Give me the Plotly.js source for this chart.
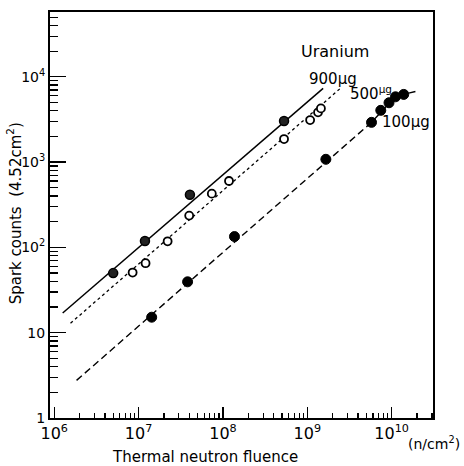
<!DOCTYPE html>
<html>
<head>
<meta charset="utf-8">
<script src="https://cdn.plot.ly/plotly-3.0.1.min.js"></script>
<style>html,body{margin:0;padding:0;background:#fff;}#chart{width:464px;height:466px;}</style>
</head>
<body>
<div id="chart"></div>
<script>
// 900 µg
const x900 = [5.0e6, 1.19e7, 4.06e7, 5.3e8];
const y900 = [50, 119, 415, 3030];
const fit900x = [1.26e6, 1.54e9];
const fit900y = [17, 7310];
// 500 µg
const x500 = [8.5e6, 1.21e7, 2.21e7, 3.98e7, 7.38e7, 1.18e8, 5.3e8, 1.08e9, 1.34e9, 1.45e9];
const y500 = [50.7, 65.3, 118, 236, 427, 601, 1865, 3110, 3830, 4265];
const fit500x = [1.56e6, 2.54e9];
const fit500y = [12.9, 7510];
// 100 µg
const x100 = [1.43e7, 3.81e7, 1.37e8, 1.66e9, 5.77e9, 7.43e9, 9.3e9, 1.11e10, 1.39e10];
const y100 = [15.2, 39.5, 134, 1079, 2925, 4045, 4965, 5830, 6220];
const fit100x = [1.84e6, 5.77e9, 9.3e9, 1.39e10, 2.06e10];
const fit100y = [2.76, 2925, 4880, 6220, 6860];

const xTickVals = [1e6, 1e7, 1e8, 1e9, 1e10];
const xTickText = ['10<sup>6</sup>', '10<sup>7</sup>', '10<sup>8</sup>', '10<sup>9</sup>', '10<sup>10</sup>'];
const yTickVals = [1, 10, 100, 1000, 10000];
const yTickText = ['1', '10', '10<sup>2</sup>', '10<sup>3</sup>', '10<sup>4</sup>'];

function minors(lo, hi) {
  const out = [];
  for (let e = lo; e <= hi; e++) for (let m = 2; m <= 9; m++) out.push(m * Math.pow(10, e));
  return out;
}

const FAM = 'DejaVu Sans, sans-serif';

const traces = [
  {x: fit900x, y: fit900y, mode: 'lines', line: {color: '#000', width: 1.5, dash: 'solid'}, showlegend: false, hoverinfo: 'skip'},
  {x: fit500x, y: fit500y, mode: 'lines', line: {color: '#000', width: 1.3, dash: 'dot'}, showlegend: false, hoverinfo: 'skip'},
  {x: fit100x, y: fit100y, mode: 'lines', line: {color: '#000', width: 1.4, dash: '7px,4px'}, showlegend: false, hoverinfo: 'skip'},
  {x: x900, y: y900, mode: 'markers', marker: {symbol: 'circle', size: 9, color: '#222', line: {color: '#000', width: 1.5}}, showlegend: false},
  {x: x500, y: y500, mode: 'markers', marker: {symbol: 'circle', size: 8, color: '#fff', line: {color: '#000', width: 1.8}}, showlegend: false},
  {x: x100, y: y100, mode: 'markers', marker: {symbol: 'circle', size: 10, color: '#000', line: {color: '#000', width: 1}}, showlegend: false}
];

const layout = {
  width: 464, height: 466,
  margin: {l: 50, r: 31, t: 12, b: 48},
  paper_bgcolor: '#fff', plot_bgcolor: '#fff',
  font: {family: FAM, color: '#000'},
  showlegend: false,
  xaxis: {
    type: 'log', range: [5.95, 10.49],
    tickmode: 'array', tickvals: xTickVals, ticktext: xTickText,
    ticks: 'inside', ticklen: 11, tickwidth: 1.3, tickcolor: '#000',
    minor: {tickmode: 'array', tickvals: minors(6, 10), ticks: 'inside', ticklen: 5, tickwidth: 1.2, tickcolor: '#000', showgrid: false},
    showline: true, linecolor: '#000', linewidth: 2, mirror: true,
    showgrid: false, zeroline: false,
    tickfont: {family: FAM, size: 16, color: '#000'}
  },
  yaxis: {
    type: 'log', range: [0, 4.76],
    tickmode: 'array', tickvals: yTickVals, ticktext: yTickText,
    ticks: 'inside', ticklen: 16, tickwidth: 1.3, tickcolor: '#000',
    minor: {tickmode: 'array', tickvals: minors(0, 4), ticks: 'inside', ticklen: 8, tickwidth: 1.2, tickcolor: '#000', showgrid: false},
    showline: true, linecolor: '#000', linewidth: 2, mirror: true,
    showgrid: false, zeroline: false,
    tickfont: {family: FAM, size: 14, color: '#000'}
  },
  annotations: [
    {text: 'Spark counts  (4.52cm<sup>2</sup>)', xref: 'paper', yref: 'paper', x: -0.093, y: 0.505, textangle: -90, xanchor: 'center', yanchor: 'middle', showarrow: false, font: {family: FAM, size: 15, color: '#000'}},
    {text: 'Thermal neutron fluence', xref: 'paper', yref: 'paper', x: 0.405, y: -0.095, xanchor: 'center', yanchor: 'middle', showarrow: false, font: {family: FAM, size: 15, color: '#000'}},
    {text: 'Uranium', xref: 'paper', yref: 'paper', x: 0.745, y: 0.902, xanchor: 'center', yanchor: 'middle', showarrow: false, font: {family: FAM, size: 16, color: '#000'}},
    {text: '900μg', xref: 'paper', yref: 'paper', x: 0.74, y: 0.835, xanchor: 'center', yanchor: 'middle', showarrow: false, font: {family: FAM, size: 15, color: '#000'}},
    {text: '500<sup>μg</sup>', xref: 'paper', yref: 'paper', x: 0.838, y: 0.8, xanchor: 'center', yanchor: 'middle', showarrow: false, font: {family: FAM, size: 15, color: '#000'}},
    {text: '100μg', xref: 'paper', yref: 'paper', x: 0.93, y: 0.73, xanchor: 'center', yanchor: 'middle', showarrow: false, font: {family: FAM, size: 15, color: '#000'}},
    {text: '(n/cm<sup>2</sup>)', xref: 'paper', yref: 'paper', x: 1.076, y: -0.062, xanchor: 'right', yanchor: 'middle', showarrow: false, font: {family: FAM, size: 14, color: '#000'}}
  ]
};

Plotly.newPlot('chart', traces, layout, {displayModeBar: false, staticPlot: true});
</script>
</body>
</html>
